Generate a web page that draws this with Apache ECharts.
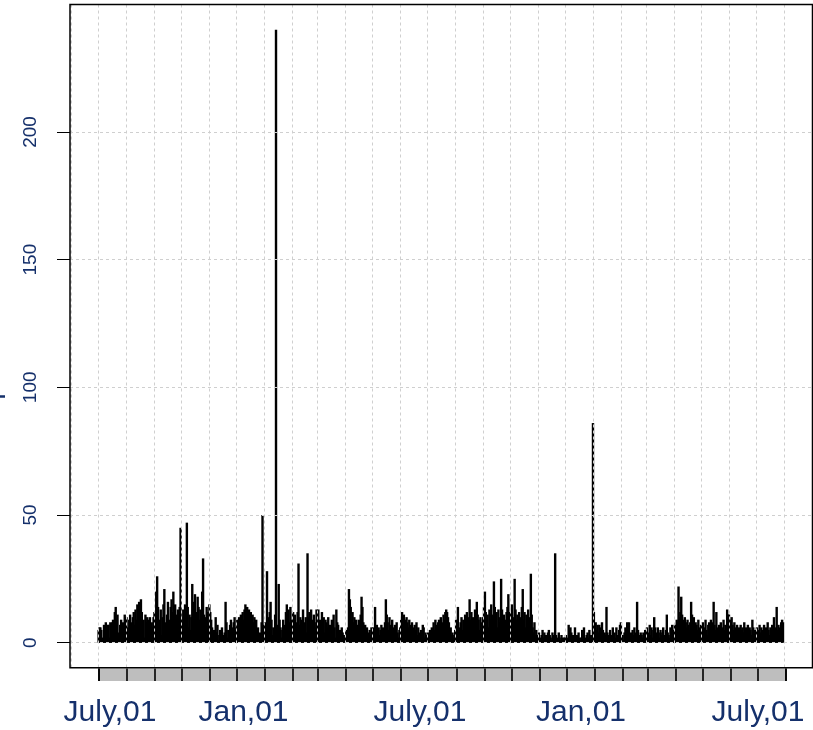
<!DOCTYPE html>
<html>
<head>
<meta charset="utf-8">
<script src="https://cdn.jsdelivr.net/npm/echarts@6/dist/echarts.min.js"></script>
<style>
  html, body { margin: 0; padding: 0; background: #fff; overflow: hidden; }
  #chart { width: 813px; height: 730px; }
</style>
</head>
<body>
<div id="chart"></div>
<script>
// ---- Data: daily values, one array per month (July year 1 .. July year 3) ----
const jul1 = [5, 6, 6, 5, 2, 1, 7, 6, 8, 3, 7, 7, 2, 8, 5, 8, 9, 7, 12, 14, 9, 11, 4, 2, 7, 9, 3, 8, 6, 11, 10];
const aug1 = [10, 6, 3, 9, 11, 8, 2, 10, 12, 7, 13, 9, 15, 11, 16, 8, 17, 12, 5, 9, 2, 11, 8, 10, 4, 9, 10, 7, 8, 6, 10];
const sep1 = [12, 9, 20, 26, 14, 4, 9, 13, 3, 10, 15, 21, 8, 5, 11, 16, 4, 9, 14, 17, 12, 20, 8, 15, 11, 3, 13, 9, 14, 45];
const oct1 = [10, 8, 13, 4, 15, 9, 47, 14, 6, 11, 5, 10, 23, 16, 8, 19, 12, 7, 18, 14, 9, 13, 5, 20, 33, 11, 6, 10, 14, 12, 8];
const nov1 = [15, 12, 9, 6, 3, 5, 2, 10, 4, 7, 1, 3, 5, 2, 6, 3, 1, 4, 16, 8, 2, 5, 3, 7, 9, 4, 6, 8, 10, 5];
const dec1 = [6, 9, 4, 10, 8, 11, 7, 12, 9, 13, 15, 12, 14, 11, 13, 10, 12, 9, 11, 8, 10, 7, 9, 5, 6, 3, 4, 2, 8, 50, 7];
const jan1 = [4, 8, 6, 28, 10, 5, 12, 16, 9, 3, 6, 4, 11, 240, 7, 5, 23, 9, 6, 2, 5, 9, 3, 7, 12, 15, 10, 13, 8, 14, 6];
const feb1 = [9, 12, 6, 11, 4, 8, 12, 31, 7, 10, 5, 9, 13, 8, 6, 10, 4, 35, 10, 12, 7, 13, 9, 5, 11, 8, 6, 13];
const mar1 = [8, 13, 5, 9, 3, 12, 7, 10, 4, 9, 8, 6, 10, 3, 7, 5, 9, 4, 11, 6, 2, 13, 8, 7, 3, 5, 2, 6, 4, 3, 2];
const apr1 = [3, 5, 2, 6, 21, 17, 14, 9, 12, 8, 10, 6, 9, 7, 5, 9, 8, 11, 18, 14, 8, 5, 7, 3, 6, 4, 2, 5, 3, 6];
const may1 = [4, 6, 3, 14, 5, 7, 4, 6, 3, 5, 7, 2, 6, 4, 8, 17, 11, 8, 5, 10, 7, 4, 9, 6, 5, 7, 3, 8, 4, 2, 5];
const jun1 = [6, 9, 12, 10, 11, 9, 7, 10, 8, 6, 9, 5, 7, 8, 6, 4, 7, 5, 8, 3, 6, 4, 2, 5, 3, 7, 6, 2, 4, 3];
const jul2 = [3, 4, 2, 5, 3, 6, 4, 8, 5, 9, 7, 6, 8, 9, 7, 10, 6, 8, 11, 9, 12, 13, 12, 10, 8, 5, 6, 3, 4, 2, 3];
const aug2 = [5, 9, 7, 14, 6, 3, 8, 10, 5, 9, 7, 11, 6, 12, 8, 10, 17, 9, 12, 6, 10, 8, 13, 7, 16, 11, 9, 5, 10, 7, 8];
const sep2 = [10, 14, 20, 12, 8, 11, 6, 13, 9, 15, 11, 7, 24, 14, 9, 12, 6, 13, 8, 10, 25, 13, 7, 11, 5, 9, 12, 14, 19, 10];
const oct2 = [12, 8, 15, 10, 6, 25, 13, 9, 11, 7, 12, 5, 10, 14, 21, 9, 12, 6, 11, 8, 13, 7, 10, 27, 11, 6, 4, 8, 3, 5, 2];
const nov2 = [3, 4, 2, 1, 3, 5, 2, 4, 1, 3, 2, 4, 5, 3, 2, 1, 4, 3, 2, 35, 3, 1, 2, 4, 2, 1, 3, 2, 1, 2];
const dec2 = [2, 3, 1, 2, 7, 5, 6, 4, 2, 3, 1, 6, 2, 3, 1, 4, 2, 1, 2, 5, 3, 6, 2, 1, 3, 4, 2, 5, 1, 3, 2];
const jan2 = [86, 12, 6, 8, 5, 7, 4, 7, 6, 3, 8, 5, 2, 4, 3, 14, 4, 2, 3, 5, 2, 3, 6, 1, 4, 2, 6, 3, 1, 5, 7];
const feb2 = [8, 2, 3, 1, 4, 6, 3, 8, 5, 8, 3, 4, 2, 5, 3, 6, 2, 4, 16, 5, 3, 2, 4, 3, 2, 4, 3, 5];
const mar2 = [3, 6, 2, 4, 7, 3, 6, 2, 5, 10, 6, 4, 3, 6, 4, 2, 5, 3, 4, 6, 2, 3, 5, 11, 4, 3, 2, 6, 5, 7, 4];
const apr2 = [5, 7, 6, 9, 8, 22, 10, 12, 18, 11, 9, 7, 10, 8, 6, 9, 7, 5, 8, 16, 11, 9, 10, 6, 8, 7, 5, 9, 6, 4];
const may2 = [7, 5, 8, 4, 6, 9, 5, 3, 7, 8, 4, 9, 6, 8, 16, 7, 5, 12, 6, 4, 7, 5, 8, 3, 6, 9, 5, 7, 6, 13, 11];
const jun2 = [11, 8, 9, 10, 7, 5, 8, 6, 4, 7, 5, 6, 3, 7, 5, 6, 4, 8, 5, 6, 3, 7, 4, 6, 5, 3, 9, 6, 4, 5];
const jul3 = [4, 6, 3, 5, 7, 4, 6, 2, 5, 7, 3, 6, 4, 8, 5, 3, 6, 4, 7, 5, 10, 6, 4, 14, 5, 7, 6, 3, 8, 9, 8];

const monthly = [jul1, aug1, sep1, oct1, nov1, dec1, jan1, feb1, mar1, apr1, may1, jun1,
                 jul2, aug2, sep2, oct2, nov2, dec2, jan2, feb2, mar2, apr2, may2, jun2, jul3];

const yTickValues = [0, 50, 100, 150, 200];
const xLabelTexts = ['July,01', 'Jan,01', 'July,01', 'Jan,01', 'July,01'];
const yTitle = 'Precipitation';

// ---- build series ----
const START_YEAR = 2017, START_MONTH = 6; // July (0-based)
const DAY = 86400000;
const seriesData = [];
monthly.forEach((arr, m) => {
  arr.forEach((v, k) => {
    seriesData.push([new Date(START_YEAR, START_MONTH + m, 1 + k).getTime(), v]);
  });
});
const tStart = new Date(START_YEAR, START_MONTH, 1).getTime();
const tEnd = new Date(START_YEAR, START_MONTH + monthly.length, 1).getTime();
const pad = (tEnd - tStart) * 0.04;
const yMin = -9.8, yMax = 249.9;

const navy = '#15306b';
const FONT = '"Liberation Sans", Arial, sans-serif';

const chart = echarts.init(document.getElementById('chart'), null, { renderer: 'canvas' });

// label positions (layout only)
const xLabelCenters = [110, 243.5, 420, 581, 758];

chart.setOption({
  animation: false,
  backgroundColor: '#ffffff',
  grid: [
    { left: 70, top: 4.5, width: 742.5, height: 663.2, show: true, borderColor: '#000', borderWidth: 1.5, z: 10 },
    { left: 98.5, top: 668.5, width: 687.5, height: 12.5, show: true, backgroundColor: '#bebebe', borderWidth: 0, z: 1 }
  ],
  xAxis: [
    {
      type: 'time', gridIndex: 0, min: tStart - pad, max: tEnd + pad,
      minInterval: 28 * DAY, maxInterval: 31 * DAY,
      axisLine: { show: false }, axisTick: { show: false }, axisLabel: { show: false },
      splitLine: { show: true, lineStyle: { color: '#cfcfcf', width: 1, type: [3, 3] } },
      z: 5
    },
    {
      type: 'time', gridIndex: 1, min: tStart, max: tEnd,
      minInterval: 28 * DAY, maxInterval: 31 * DAY,
      axisLine: { show: false }, axisTick: { show: false }, axisLabel: { show: false },
      splitLine: { show: true, lineStyle: { color: '#000', width: 1.6 } },
      z: 5
    }
  ],
  yAxis: [
    {
      type: 'value', gridIndex: 0, min: yMin, max: yMax,
      axisLine: { show: false },
      axisTick: { show: true, length: 13, customValues: yTickValues, lineStyle: { color: '#000', width: 1 } },
      axisLabel: {
        show: true, customValues: yTickValues, rotate: 90, margin: 30,
        color: navy, fontSize: 19, fontFamily: FONT
      },
      splitLine: { show: true, lineStyle: { color: '#cfcfcf', width: 1, type: [3, 3] } },
      z: 5
    },
    { type: 'value', gridIndex: 1, min: 0, max: 1, show: false }
  ],
  series: [
    {
      type: 'bar', xAxisIndex: 0, yAxisIndex: 0,
      data: seriesData, barWidth: 2.4,
      itemStyle: { color: '#000' },
      silent: true, z: 2
    }
  ],
  graphic: xLabelTexts.map((t, i) => ({
    type: 'text', x: xLabelCenters[i], y: 713,
    style: { text: t, fill: navy, font: '30px ' + FONT, align: 'center', verticalAlign: 'middle' },
    silent: true
  })).concat([{
    type: 'text', x: 5, y: 386, rotation: Math.PI / 2,
    style: { text: yTitle, fill: navy, font: '29px ' + FONT, align: 'center', verticalAlign: 'bottom' },
    silent: true
  }])
});
</script>
</body>
</html>
